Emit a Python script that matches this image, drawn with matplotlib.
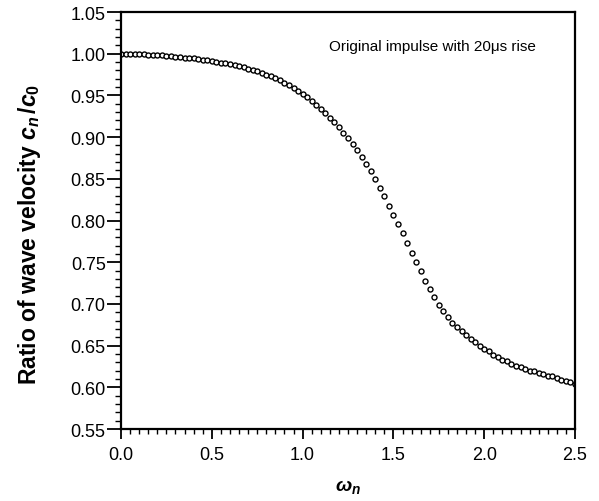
import matplotlib
matplotlib.use("Agg")
import matplotlib.pyplot as plt
import numpy as np
from matplotlib.ticker import MultipleLocator, FormatStrFormatter

plt.rcParams['font.family'] = ['Liberation Sans', 'DejaVu Sans']
plt.rcParams['mathtext.fontset'] = 'custom'
plt.rcParams['mathtext.it'] = 'Liberation Sans:italic:bold'
plt.rcParams['mathtext.rm'] = 'Liberation Sans:bold'

# normalised frequency, sampled every 0.025
omega_n = np.linspace(0.0, 2.5, 101)

# ratio of wave velocity c_n / c_0
ratio = [
    1.0000, 1.0000, 1.0000, 0.9998, 0.9996, 0.9993, 0.9990, 0.9987, 0.9984, 0.9980,
    0.9976, 0.9971, 0.9966, 0.9960, 0.9954, 0.9950, 0.9945, 0.9938, 0.9930, 0.9922,
    0.9914, 0.9905, 0.9895, 0.9885, 0.9874, 0.9862, 0.9850, 0.9836, 0.9821, 0.9805,
    0.9788, 0.9770, 0.9750, 0.9730, 0.9705, 0.9680, 0.9652, 0.9622, 0.9590, 0.9555,
    0.9518, 0.9478, 0.9436, 0.9390, 0.9335, 0.9285, 0.9232, 0.9176, 0.9117, 0.9055,
    0.8990, 0.8920, 0.8845, 0.8765, 0.8680, 0.8590, 0.8495, 0.8395, 0.8290, 0.8180,
    0.8070, 0.7960, 0.7845, 0.7730, 0.7615, 0.7500, 0.7390, 0.7280, 0.7175, 0.7078,
    0.6990, 0.6910, 0.6838, 0.6775, 0.6720, 0.6670, 0.6625, 0.6580, 0.6540, 0.6500,
    0.6460, 0.6430, 0.6390, 0.6360, 0.6330, 0.6310, 0.6280, 0.6260, 0.6240, 0.6220,
    0.6200, 0.6190, 0.6170, 0.6160, 0.6140, 0.6130, 0.6110, 0.6090, 0.6070, 0.6060,
    0.6040,
]

note = "Original impulse with 20\u03bcs rise"

fig = plt.figure(figsize=(5.99, 5.02), dpi=100)
ax = fig.add_axes([0.202, 0.1434, 0.758, 0.8306])

ax.plot(omega_n, ratio, linestyle='none', marker='o', markersize=3.6,
        markerfacecolor='white', markeredgecolor='black', markeredgewidth=1.0)

ax.set_xlim(0, 2.5)
ax.set_ylim(0.55, 1.05)
ax.xaxis.set_major_locator(MultipleLocator(0.5))
ax.xaxis.set_minor_locator(MultipleLocator(0.05))
ax.yaxis.set_major_locator(MultipleLocator(0.05))
ax.yaxis.set_minor_locator(MultipleLocator(0.01))
ax.xaxis.set_major_formatter(FormatStrFormatter('%.1f'))
ax.yaxis.set_major_formatter(FormatStrFormatter('%.2f'))

for s in ax.spines.values():
    s.set_linewidth(1.6)
ax.tick_params(axis='y', which='major', direction='out', length=10, width=1.3,
               labelsize=13, pad=1)
ax.tick_params(axis='y', which='minor', direction='out', length=4.5, width=1.0)
ax.tick_params(axis='x', which='major', direction='out', length=7, width=1.3,
               labelsize=13, pad=5)
ax.tick_params(axis='x', which='minor', direction='out', length=3.5, width=1.0)
ax.tick_params(top=False, right=False, which='both')

ax.set_xlabel(r'$\omega_n$', fontsize=14, labelpad=10)
ax.set_ylabel(r'Ratio of wave velocity $c_n\,/c_0$', fontsize=16.5,
              fontweight='bold', labelpad=6)
ax.yaxis.set_label_coords(-0.172, 0.47)

ax.text(1.715, 1.009, note, fontsize=11, ha='center', va='center')

fig.savefig("out.png", dpi=100)
